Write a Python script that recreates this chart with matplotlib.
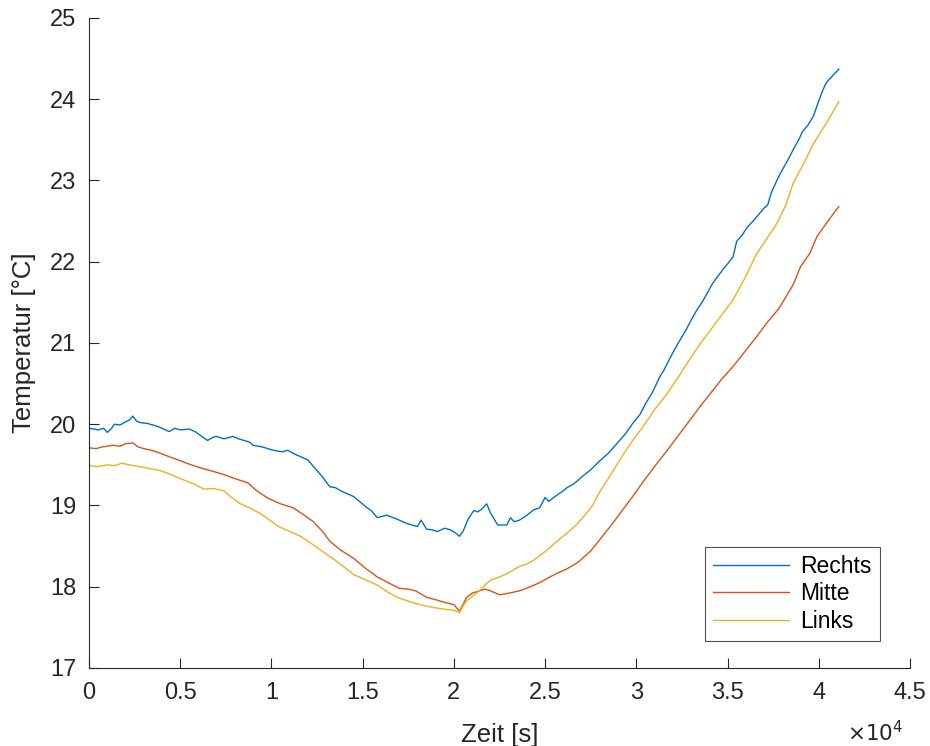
import matplotlib
matplotlib.use('Agg')
import matplotlib.pyplot as plt
from matplotlib.ticker import FuncFormatter

plt.rcParams['font.family'] = ['Liberation Sans', 'DejaVu Sans']

# time in units of 1e4 s, temperature in °C
rechts_t = [0.00, 0.03, 0.05, 0.08, 0.10, 0.12, 0.14, 0.17, 0.20, 0.22, 0.24, 0.26,
            0.28, 0.32, 0.35, 0.38, 0.41, 0.44, 0.47, 0.50, 0.55, 0.58, 0.60, 0.65,
            0.68, 0.70, 0.74, 0.79, 0.82, 0.85, 0.88, 0.90, 0.95, 1.01, 1.06, 1.09,
            1.12, 1.16, 1.20, 1.23, 1.28, 1.32, 1.35, 1.38, 1.42, 1.45, 1.52, 1.55,
            1.58, 1.63, 1.68, 1.71, 1.74, 1.80, 1.82, 1.85, 1.88, 1.91, 1.95, 1.98,
            2.01, 2.03, 2.05, 2.08, 2.11, 2.13, 2.15, 2.18, 2.20, 2.24, 2.29, 2.31,
            2.33, 2.36, 2.40, 2.44, 2.47, 2.50, 2.52, 2.56, 2.60, 2.62, 2.66, 2.70,
            2.75, 2.80, 2.85, 2.90, 2.94, 2.98, 3.02, 3.05, 3.09, 3.13, 3.15, 3.17,
            3.20, 3.23, 3.27, 3.30, 3.33, 3.36, 3.39, 3.42, 3.45, 3.48, 3.51, 3.53,
            3.55, 3.58, 3.61, 3.64, 3.67, 3.70, 3.72, 3.74, 3.77, 3.79, 3.83, 3.86,
            3.89, 3.91, 3.94, 3.97, 4.00, 4.02, 4.04, 4.08, 4.11]
rechts_T = [19.95, 19.94, 19.93, 19.95, 19.90, 19.94, 20.00, 19.99, 20.03, 20.05, 20.10, 20.04,
            20.02, 20.01, 19.99, 19.97, 19.94, 19.91, 19.95, 19.93, 19.94, 19.91, 19.88, 19.80,
            19.84, 19.85, 19.82, 19.85, 19.82, 19.80, 19.78, 19.74, 19.72, 19.68, 19.66, 19.68,
            19.64, 19.60, 19.56, 19.48, 19.35, 19.23, 19.22, 19.18, 19.14, 19.11, 18.98, 18.93,
            18.85, 18.88, 18.84, 18.81, 18.78, 18.74, 18.82, 18.71, 18.70, 18.68, 18.72, 18.70,
            18.66, 18.62, 18.68, 18.84, 18.94, 18.92, 18.95, 19.02, 18.91, 18.76, 18.76, 18.85,
            18.80, 18.82, 18.88, 18.95, 18.97, 19.10, 19.05, 19.12, 19.18, 19.22, 19.27, 19.35,
            19.44, 19.55, 19.65, 19.78, 19.88, 20.01, 20.12, 20.25, 20.40, 20.59, 20.66, 20.75,
            20.88, 21.00, 21.15, 21.28, 21.40, 21.50, 21.62, 21.74, 21.83, 21.92, 22.00, 22.06,
            22.25, 22.33, 22.43, 22.50, 22.58, 22.66, 22.70, 22.85, 23.00, 23.09, 23.25, 23.38,
            23.50, 23.60, 23.68, 23.79, 23.98, 24.10, 24.20, 24.30, 24.37]

mitte_t = [0.00, 0.04, 0.07, 0.10, 0.13, 0.17, 0.20, 0.24, 0.27, 0.30, 0.34, 0.37,
           0.44, 0.50, 0.56, 0.63, 0.68, 0.74, 0.80, 0.87, 0.92, 0.98, 1.05, 1.12,
           1.18, 1.23, 1.28, 1.32, 1.38, 1.45, 1.52, 1.58, 1.64, 1.70, 1.75, 1.79,
           1.85, 1.90, 1.96, 2.00, 2.03, 2.05, 2.07, 2.10, 2.14, 2.17, 2.20, 2.25,
           2.30, 2.36, 2.42, 2.47, 2.51, 2.56, 2.62, 2.68, 2.75, 2.80, 2.86, 2.92,
           2.98, 3.04, 3.10, 3.17, 3.23, 3.29, 3.35, 3.41, 3.47, 3.53, 3.59, 3.66,
           3.72, 3.78, 3.81, 3.86, 3.90, 3.95, 3.99, 4.05, 4.11]
mitte_T = [19.71, 19.70, 19.72, 19.73, 19.74, 19.73, 19.76, 19.77, 19.72, 19.70, 19.68, 19.66,
           19.60, 19.55, 19.50, 19.45, 19.42, 19.38, 19.33, 19.28, 19.18, 19.09, 19.02, 18.97,
           18.88, 18.80, 18.68, 18.56, 18.45, 18.35, 18.22, 18.12, 18.05, 17.98, 17.97, 17.95,
           17.87, 17.84, 17.80, 17.78, 17.70, 17.78, 17.87, 17.92, 17.95, 17.97, 17.95, 17.90,
           17.92, 17.95, 18.00, 18.05, 18.10, 18.16, 18.22, 18.30, 18.44, 18.58, 18.75, 18.93,
           19.11, 19.30, 19.48, 19.68, 19.86, 20.04, 20.22, 20.39, 20.56, 20.71, 20.88, 21.08,
           21.26, 21.42, 21.53, 21.72, 21.94, 22.10, 22.31, 22.50, 22.68]

links_t = [0.00, 0.05, 0.10, 0.14, 0.18, 0.22, 0.27, 0.32, 0.39, 0.45, 0.50, 0.57,
           0.63, 0.68, 0.74, 0.78, 0.83, 0.88, 0.94, 0.99, 1.04, 1.10, 1.16, 1.22,
           1.27, 1.34, 1.40, 1.45, 1.52, 1.58, 1.64, 1.70, 1.78, 1.85, 1.90, 1.96,
           2.00, 2.03, 2.05, 2.07, 2.10, 2.14, 2.17, 2.20, 2.25, 2.29, 2.36, 2.40,
           2.44, 2.51, 2.56, 2.62, 2.67, 2.71, 2.76, 2.80, 2.86, 2.92, 2.98, 3.04,
           3.10, 3.17, 3.23, 3.29, 3.35, 3.41, 3.47, 3.53, 3.60, 3.66, 3.72, 3.77,
           3.82, 3.86, 3.92, 3.97, 4.04, 4.11]
links_T = [19.49, 19.48, 19.50, 19.49, 19.52, 19.50, 19.48, 19.46, 19.43, 19.38, 19.33, 19.27,
           19.20, 19.21, 19.18, 19.10, 19.02, 18.97, 18.90, 18.82, 18.74, 18.68, 18.62, 18.53,
           18.45, 18.34, 18.24, 18.15, 18.08, 18.02, 17.93, 17.86, 17.80, 17.76, 17.74, 17.72,
           17.71, 17.68, 17.76, 17.83, 17.88, 17.95, 18.02, 18.08, 18.12, 18.16, 18.25, 18.28,
           18.33, 18.45, 18.55, 18.66, 18.76, 18.86, 19.00, 19.17, 19.38, 19.60, 19.80, 19.98,
           20.18, 20.38, 20.58, 20.79, 20.99, 21.17, 21.35, 21.53, 21.82, 22.10, 22.30, 22.47,
           22.70, 22.97, 23.22, 23.45, 23.70, 23.97]

xticks = [0, 0.5, 1, 1.5, 2, 2.5, 3, 3.5, 4, 4.5]
yticks = [17, 18, 19, 20, 21, 22, 23, 24, 25]

fig = plt.figure(figsize=(9.3, 7.46), dpi=100)
ax = fig.add_axes([0.0957, 0.1046, 0.8828, 0.8713])

ax.plot([t * 1e4 for t in rechts_t], rechts_T, color='#0072BD', lw=1.0, label='Rechts')
ax.plot([t * 1e4 for t in mitte_t], mitte_T, color='#D95319', lw=1.0, label='Mitte')
ax.plot([t * 1e4 for t in links_t], links_T, color='#EDB120', lw=1.0, label='Links')

ax.set_xlim(0, 4.5e4)
ax.set_ylim(17, 25)
ax.set_xticks([t * 1e4 for t in xticks])
ax.set_yticks(yticks)
ax.xaxis.set_major_formatter(FuncFormatter(lambda v, p: '%g' % (v / 1e4)))

gray = '#262626'
for s in ['top', 'right']:
    ax.spines[s].set_visible(False)
for s in ['left', 'bottom']:
    ax.spines[s].set_color(gray)
    ax.spines[s].set_linewidth(0.8)
ax.tick_params(direction='in', length=7, width=0.8, color=gray, labelcolor=gray,
               labelsize=17)
ax.tick_params(axis='y', pad=9)
ax.tick_params(axis='x', pad=10)

ax.set_xlabel('Zeit [s]', fontsize=18.5, color=gray, labelpad=14)
ax.set_ylabel('Temperatur [°C]', fontsize=18.5, color=gray, labelpad=10)
fig.text(0.941, 0.0, r'$\times 10^4$', fontsize=15.5, color=gray, ha='center', va='bottom')

leg = ax.legend(loc='lower right', bbox_to_anchor=(0.963, 0.0415), fontsize=16.5,
                handlelength=3.3, frameon=True, fancybox=False, borderpad=0.35,
                labelspacing=0.2, handletextpad=0.5, borderaxespad=0)
leg.get_frame().set_edgecolor(gray)
leg.get_frame().set_linewidth(0.8)

fig.savefig('out.png', dpi=100)
